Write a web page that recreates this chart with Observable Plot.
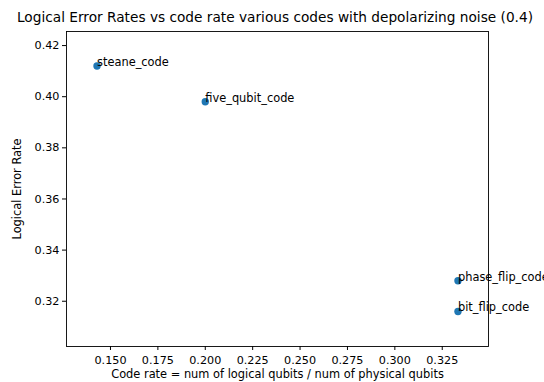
<!DOCTYPE html>
<html>
<head>
<meta charset="utf-8">
<script src="https://cdn.jsdelivr.net/npm/d3@7"></script>
<script src="https://cdn.jsdelivr.net/npm/@observablehq/plot@0.6"></script>
<style>
  html, body { margin: 0; padding: 0; background: #fff; }
  body { width: 544px; height: 382px; overflow: hidden; font-family: "DejaVu Sans", sans-serif; }
  #title { box-sizing: border-box; width: 544px; height: 29px; padding-top: 6px; padding-left: 6px;
           line-height: 23px; font-size: 13.7px; text-align: center; color: #000; white-space: nowrap; }
</style>
</head>
<body>
<div id="title">Logical Error Rates vs code rate various codes with depolarizing noise (0.4)</div>
<div id="chart"></div>
<script>
const codes = ["steane_code", "five_qubit_code", "phase_flip_code", "bit_flip_code"];
const codeRates = [0.1429, 0.2, 0.3333, 0.3333];
const errorRates = [0.412, 0.398, 0.328, 0.316];
const xTicks = [0.150, 0.175, 0.200, 0.225, 0.250, 0.275, 0.300, 0.325];
const yTicks = [0.32, 0.34, 0.36, 0.38, 0.40, 0.42];

const data = codes.map((name, i) => ({name, rate: codeRates[i], err: errorRates[i]}));

const chart = Plot.plot({
  width: 544,
  height: 353,
  marginLeft: 66,
  marginRight: 56,
  marginTop: 2,
  marginBottom: 36,
  style: {fontFamily: "DejaVu Sans", fontSize: "11.2px", color: "#000", background: "#fff", overflow: "visible"},
  x: {domain: [0.1268, 0.3494]},
  y: {domain: [0.3023, 0.4255]},
  marks: [
    Plot.frame({stroke: "#000", strokeWidth: 0.9}),
    Plot.axisX({ticks: xTicks, tickFormat: d3.format(".3f"), tickSize: 4, tickPadding: 6,
      label: null}),
    Plot.axisX({ticks: [], label: "Code rate = num of logical qubits / num of physical qubits",
      labelAnchor: "center", labelOffset: 31, labelArrow: "none", fontSize: 11.4}),
    Plot.axisY({ticks: yTicks, tickFormat: d3.format(".2f"), tickSize: 4, tickPadding: 3,
      label: null}),
    Plot.axisY({ticks: [], label: "Logical Error Rate", labelAnchor: "center", labelOffset: 54,
      labelArrow: "none", fontSize: 11.4}),
    Plot.dot(data, {x: "rate", y: "err", r: 3.7, fill: "#1f77b4"}),
    Plot.text(data, {x: "rate", y: "err", text: "name", textAnchor: "start", lineAnchor: "bottom", fontSize: 11.4, fill: "#000"})
  ]
});
document.getElementById("chart").appendChild(chart);
</script>
</body>
</html>
